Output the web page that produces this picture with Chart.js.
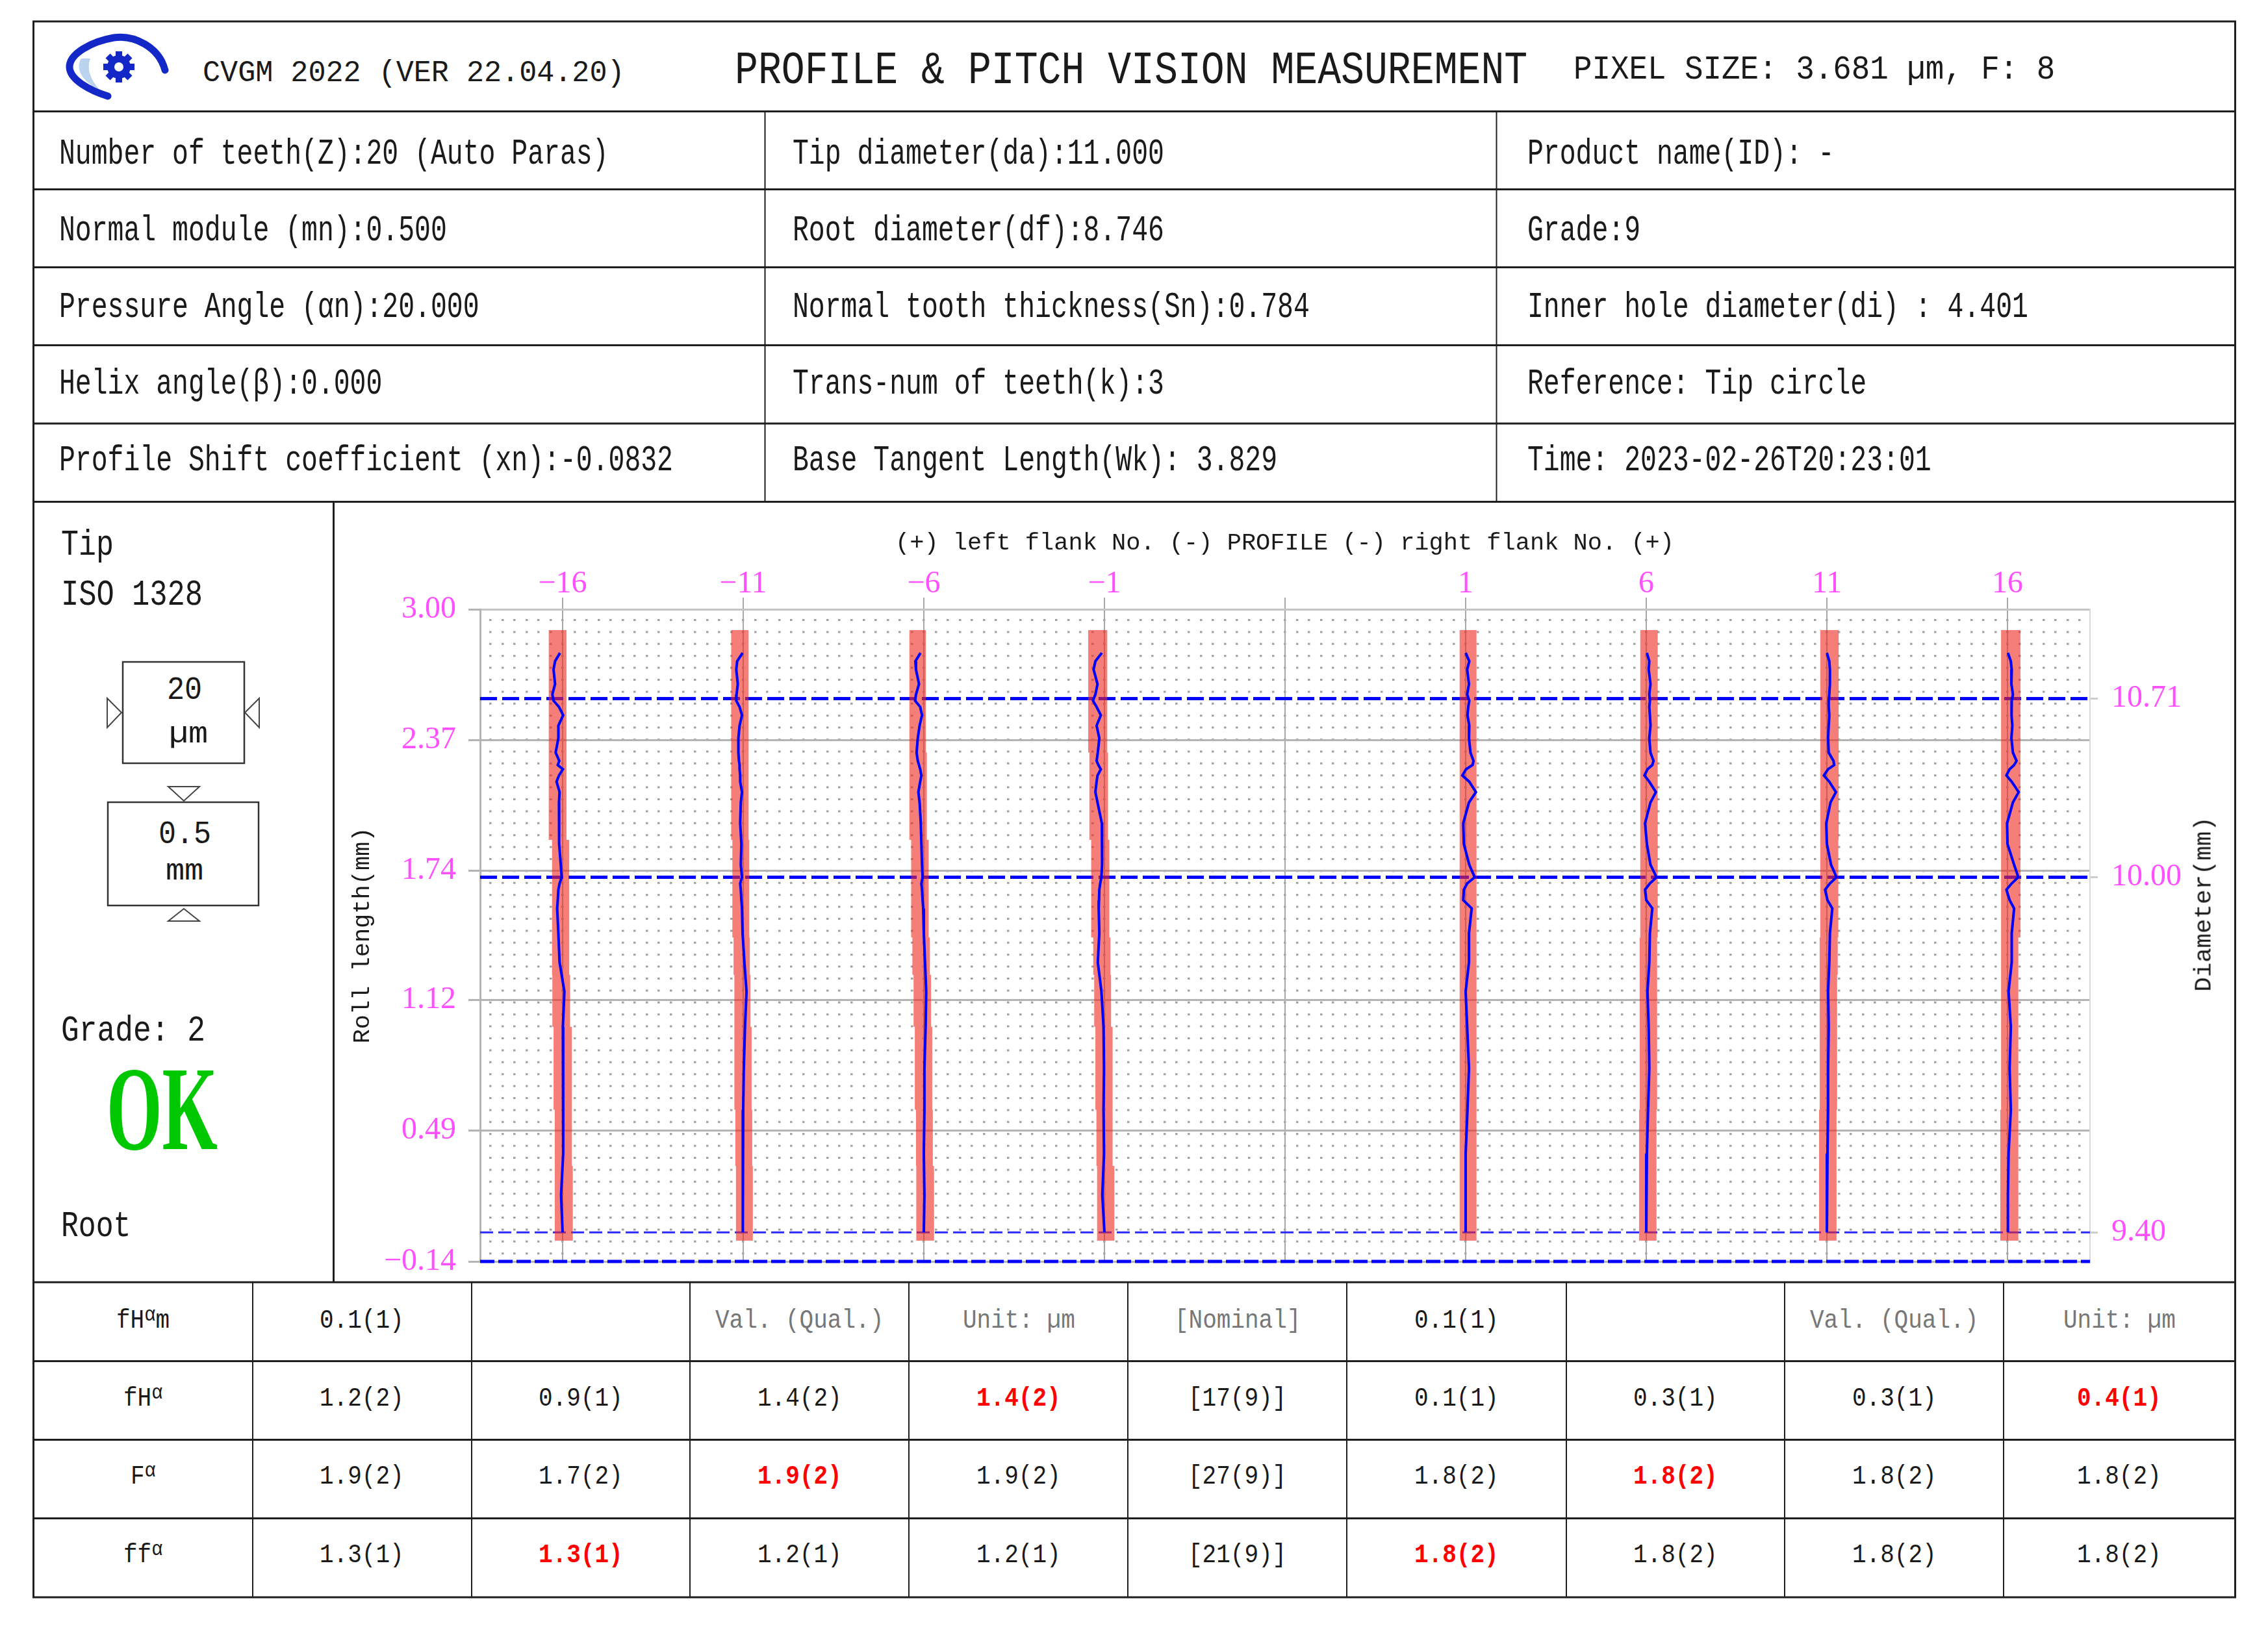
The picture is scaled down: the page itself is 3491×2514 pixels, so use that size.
<!DOCTYPE html>
<html>
<head>
<meta charset="utf-8">
<title>Profile &amp; Pitch Vision Measurement</title>
<script src="https://cdn.jsdelivr.net/npm/chart.js@4.4.1/dist/chart.umd.min.js"></script>
<style>
  html, body { margin: 0; padding: 0; background: #fff; }
  #page { position: relative; width: 3491px; height: 2514px; overflow: hidden; background: #fff;
          font-family: "Liberation Mono", monospace; color: #1a1a1a; }
  #frame { position: absolute; left: 0; top: 0; }
  .tx { position: absolute; white-space: nowrap; line-height: 1; transform-origin: 0 50%; }
  #chartBox { position: absolute; left: 514px; top: 773px; width: 2927px; height: 1200px; }
  .a { font-size: 0.8em; position: relative; top: -0.35em; }
</style>
</head>
<body>
<div id="page">
  <svg id="frame" width="3491" height="2514"></svg>
  <div id="chartBox"><canvas id="profileChart" width="2927" height="1200"></canvas></div>
</div>
<script>
// ---- chart data ----
const toothLabels = ['−16', '−11', '−6', '−1', '1', '6', '11', '16'];

// roll length (mm) at which each profile trace was sampled, tip -> root
const rollPts = [2.79, 2.75, 2.71, 2.64, 2.59, 2.56, 2.53, 2.49, 2.44, 2.38, 2.31, 2.27, 2.25, 2.23, 2.20, 2.17, 2.12, 2.07,
                 1.97, 1.87, 1.77, 1.71, 1.68, 1.65, 1.60, 1.56, 1.44, 1.30, 1.16, 0.99, 0.79, 0.59, 0.38, 0.18, 0.00];

// profile deviation (µm) per tooth, same length as rollPts
const devM16 = [-0.43, -1.25, -1.5, -1.25, -1.7, -1.5, -0.6, 0.1, -0.7, -0.7, -1.15, -0.55, -0.8, 0.05, -0.6, -1.0, -0.5, -0.6,
                -0.55, -0.6, -0.3, -0.15, -0.5, -0.7, -0.8, -0.9, -0.7, -0.5, 0.3, 0.05, 0.1, 0.1, 0.1, -0.25, 0];
const devM11 = [-0.1, -1.0, -1.15, -0.9, -1.1, -1.15, -0.6, -0.2, -0.6, -0.8, -0.8, -0.7, -0.6, -0.6, -0.5, -0.5, -0.2, -0.4,
                -0.5, -0.3, -0.4, -0.2, -0.5, -0.4, -0.3, -0.2, -0.1, 0.2, 0.55, 0.3, 0.1, 0.0, -0.1, -0.1, 0];
const devM6  = [-0.55, -1.4, -1.3, -0.8, -1.3, -1.45, -0.6, -0.3, -0.7, -1.0, -1.2, -1.0, -0.8, -0.6, -0.4, -0.6, -0.9, -0.7,
                -0.5, -0.4, -0.3, -0.2, -0.4, -0.3, -0.2, -0.1, 0.0, 0.2, 0.4, 0.3, 0.1, 0.1, 0.0, 0.1, 0];
const devM1  = [-0.43, -1.5, -1.8, -1.15, -1.5, -1.9, -1.3, -0.6, -1.3, -0.85, -1.1, -1.3, -1.0, -0.6, -1.15, -1.3, -1.5, -1.15,
                -0.43, -0.35, -0.43, -0.5, -0.7, -0.85, -0.9, -0.95, -0.85, -1.1, -0.5, -0.15, -0.07, -0.15, -0.07, -0.35, 0];
const devP1  = [0, 0.6, 0.25, 0.55, 0.25, 0.6, 0.43, 0.3, 0.6, 0.55, 0.8, 1.3, 1.15, 0.07, -0.55, 0.6, 1.7, 0.55,
                -0.4, -0.3, 0.6, 1.5, 0.25, -0.3, -0.4, 1.0, 0.55, 0.55, 0, 0.25, 0.55, 0.3, 0, 0, 0];
const devP6  = [0.1, 0.5, 0.4, 0.7, 0.5, 0.6, 0.5, 0.6, 0.7, 0.5, 0.7, 1.2, 1.0, 0.2, -0.3, 0.5, 1.6, 0.7,
                -0.2, 0.1, 0.7, 1.7, 0.6, -0.2, 0.0, 1.0, 0.6, 0.5, 0.2, 0.4, 0.5, 0.3, 0.1, 0.0, 0.0];
const devP11 = [0, 0.4, 0.5, 0.5, 0.4, 0.3, 0.3, 0.4, 0.3, 0.2, 0.3, 1.1, 1.2, 0.2, -0.5, 0.4, 1.5, 0.6,
                -0.1, 0.0, 0.7, 1.6, 0.5, -0.3, 0.1, 0.9, 0.5, 0.4, 0.2, 0.3, 0.2, 0.2, 0.1, 0.0, 0.0];
const devP16 = [0.07, 0.55, 0.7, 0.65, 0.9, 0.7, 0.7, 0.65, 0.8, 0.65, 0.9, 1.5, 1.1, 0.35, -0.18, 0.7, 1.85, 0.9,
                -0.07, 0, 1.1, 1.8, 0.7, -0.18, 0.35, 1.1, 0.7, 0.7, 0.18, 0.55, 0.35, 0.55, 0.18, 0.07, 0.07];
const profileDevs = [devM16, devM11, devM6, devM1, devP1, devP6, devP11, devP16];

// tolerance band: roll length breakpoints and low/high edge (µm) per segment, one row per tooth
const bandBreaks = [2.90, 2.31, 1.89, 1.42, 1.24, 0.99, 0.59, 0.32, -0.04];
const bandLo = [
  [-2.3, -2.3, -1.75, -1.75, -1.7, -1.5, -1.3, -1.3],
  [-2.0, -2.0, -1.8, -1.6, -1.5, -1.4, -1.3, -1.2],
  [-2.4, -2.4, -2.1, -1.9, -1.7, -1.5, -1.3, -1.25],
  [-2.7, -2.5, -2.2, -1.86, -1.7, -1.5, -1.33, -1.22],
  [-1.0, -1.0, -1.0, -1.0, -1.0, -1.0, -1.0, -1.0],
  [-1.0, -1.0, -1.0, -1.1, -1.1, -1.1, -1.2, -1.2],
  [-1.1, -1.1, -1.1, -1.2, -1.2, -1.2, -1.3, -1.3],
  [-1.07, -1.07, -1.07, -1.07, -1.07, -1.07, -1.2, -1.2]
];
const bandHi = [
  [0.65, 0.65, 1.1, 1.1, 1.25, 1.55, 1.55, 1.7],
  [0.9, 0.9, 1.0, 1.1, 1.2, 1.4, 1.5, 1.6],
  [0.35, 0.5, 0.8, 1.0, 1.2, 1.4, 1.5, 1.7],
  [0.47, 0.6, 0.82, 1.0, 1.1, 1.36, 1.36, 1.65],
  [1.8, 1.8, 1.8, 1.8, 1.8, 1.8, 1.8, 1.8],
  [1.9, 1.9, 1.9, 1.8, 1.8, 1.8, 1.7, 1.7],
  [1.95, 1.95, 1.9, 1.8, 1.7, 1.7, 1.6, 1.6],
  [2.15, 2.15, 2.15, 1.8, 1.8, 1.8, 1.8, 1.8]
];

const rollTicks = [3.00, 2.37, 1.74, 1.12, 0.49, -0.14];
const diaRolls  = [2.57, 1.71, 0.00, -0.14];
const diaLabels = ['10.71', '10.00', '9.40', ''];

// ---- report tables ----
const infoCol1 = ['Number of teeth(Z):20 (Auto Paras)', 'Normal module (mn):0.500', 'Pressure Angle (αn):20.000',
                  'Helix angle(β):0.000', 'Profile Shift coefficient (xn):-0.0832'];
const infoCol2 = ['Tip diameter(da):11.000', 'Root diameter(df):8.746', 'Normal tooth thickness(Sn):0.784',
                  'Trans-num of teeth(k):3', 'Base Tangent Length(Wk): 3.829'];
const infoCol3 = ['Product name(ID): -', 'Grade:9', 'Inner hole diameter(di) : 4.401',
                  'Reference: Tip circle', 'Time: 2023-02-26T20:23:01'];

const rowHeads = ['fHαm', 'fHα', 'Fα', 'ffα'];
const hdrRow = ['0.1(1)', '', 'Val. (Qual.)', 'Unit: µm', '[Nominal]', '0.1(1)', '', 'Val. (Qual.)', 'Unit: µm'];
const fHaRow = ['1.2(2)', '0.9(1)', '1.4(2)', '1.4(2)', '[17(9)]', '0.1(1)', '0.3(1)', '0.3(1)', '0.4(1)'];
const FaRow  = ['1.9(2)', '1.7(2)', '1.9(2)', '1.9(2)', '[27(9)]', '1.8(2)', '1.8(2)', '1.8(2)', '1.8(2)'];
const ffaRow = ['1.3(1)', '1.3(1)', '1.2(1)', '1.2(1)', '[21(9)]', '1.8(2)', '1.8(2)', '1.8(2)', '1.8(2)'];
const redCells = ['1-3', '1-8', '2-2', '2-6', '3-1', '3-5'];
const greyCells = ['0-2', '0-3', '0-4', '0-7', '0-8'];

// ---- frame / shapes ----
const page = document.getElementById('page');
const svg = document.getElementById('frame');
let shapes = '';
function ln(x1, y1, x2, y2, w, c) {
  shapes += `<line x1="${x1}" y1="${y1}" x2="${x2}" y2="${y2}" stroke="${c || '#1e1e1e'}" stroke-width="${w}"/>`;
}
[33, 171.5, 291.5, 411.5, 531.5, 652, 772.5, 1974, 2095.5, 2216.5, 2337.5, 2459].forEach(y => ln(50, y, 3442, y, 3));
ln(51.5, 32, 51.5, 2460, 3);
ln(3440.5, 32, 3440.5, 2460, 3);
[1177.5, 2303.5].forEach(x => ln(x, 171.5, x, 772.5, 2));
ln(513.5, 772.5, 513.5, 1974, 3);
[389, 726, 1062, 1399, 1736, 2073, 2411, 2747, 3084].forEach(x => ln(x, 1974, x, 2459, 2));

// scale boxes in the left panel
shapes += '<rect x="189" y="1019" width="187" height="156" fill="none" stroke="#333" stroke-width="2.5"/>';
shapes += '<rect x="166" y="1235" width="232" height="159" fill="none" stroke="#333" stroke-width="2.5"/>';
shapes += '<polygon points="165,1075 165,1120 187,1097" fill="none" stroke="#444" stroke-width="2"/>';
shapes += '<polygon points="399,1075 399,1120 377,1097" fill="none" stroke="#444" stroke-width="2"/>';
shapes += '<polygon points="259,1211 307,1211 283,1233" fill="none" stroke="#444" stroke-width="2"/>';
shapes += '<polygon points="259,1418 307,1418 283,1399" fill="none" stroke="#444" stroke-width="2"/>';

// logo
let gear = '';
for (let k = 0; k < 8; k++) gear += `<rect x="-5" y="-24" width="10" height="10" fill="#1428c8" transform="rotate(${k * 45})"/>`;
shapes += `<g transform="translate(95 48)">
  <path d="M30 42 C20 58 32 78 58 90 C44 74 38 58 44 42 Z" fill="#bcd3f0"/>
  <path d="M159 60 C150 25 112 5 80 10 C45 16 12 35 12 55 C12 75 45 92 71 100" fill="none" stroke="#1428c8" stroke-width="11" stroke-linecap="round"/>
  <g transform="translate(88 55)">${gear}<circle r="18" fill="#1428c8"/><circle r="7" fill="#fff"/></g>
</g>`;
svg.innerHTML = shapes;

// ---- text ----
function put(html, x, cy, size, opt) {
  opt = opt || {};
  const el = document.createElement('div');
  el.className = 'tx';
  el.innerHTML = html;
  el.style.fontSize = size + 'px';
  if (opt.family) el.style.fontFamily = opt.family;
  if (opt.bold) el.style.fontWeight = 'bold';
  if (opt.color) el.style.color = opt.color;
  page.appendChild(el);
  const w = el.offsetWidth;
  const sx = opt.width ? opt.width / w : (opt.sx || 1);
  el.style.left = (opt.center ? x - w * sx / 2 : x) + 'px';
  el.style.top = (cy - size * (opt.mid || 0.44)) + 'px';
  el.style.transform = 'scaleX(' + sx + ')';
  return el;
}

put('CVGM 2022 (VER 22.04.20)', 312, 110, 46, { width: 650 });
put('PROFILE &amp; PITCH VISION MEASUREMENT', 1131, 106, 70, { width: 1220 });
put('PIXEL SIZE: 3.681 µm, F: 8', 2422, 105, 52, { width: 741 });

const infoY = [234, 352, 470, 588, 706];
infoY.forEach((y, i) => {
  put(infoCol1[i], 91, y, 56, { sx: 0.74 });
  put(infoCol2[i], 1220, y, 56, { sx: 0.74 });
  put(infoCol3[i], 2351, y, 56, { sx: 0.74 });
});

put('Tip', 94, 836, 56, { width: 81 });
put('ISO 1328', 94, 913, 56, { width: 218 });
put('Grade: 2', 94, 1584, 56, { width: 222 });
put('Root', 94, 1885, 56, { width: 107 });
put('OK', 164, 1709, 184, { width: 171, bold: true, color: '#00c800', family: '"Liberation Serif", serif', mid: 0.51 });
put('20', 284, 1060, 50, { center: true, width: 54 });
put('µm', 290, 1128, 46, { center: true, width: 60 });
put('0.5', 284, 1282, 50, { center: true, width: 81 });
put('mm', 284, 1339, 46, { center: true, width: 58 });

const diaTitle = put('Diameter(mm)', 0, 0, 37, { width: 269 });
diaTitle.style.left = '3393px';
diaTitle.style.top = '1392px';
diaTitle.style.transformOrigin = '50% 50%';
diaTitle.style.transform = 'translate(-50%, -50%) rotate(-90deg) scaleX(' + (269 / diaTitle.offsetWidth) + ')';

const colX = [220, 557, 894, 1231, 1568, 1905, 2242, 2579, 2916, 3262];
const rowY = [2032, 2152, 2272, 2393];
[hdrRow, fHaRow, FaRow, ffaRow].forEach((row, r) => {
  const head = rowHeads[r].replace('α', '<span class="a">α</span>');
  put(head, colX[0], rowY[r], 40, { center: true, sx: 0.9 });
  row.forEach((v, c) => {
    if (!v) return;
    const key = r + '-' + c;
    const red = redCells.includes(key);
    put(v, colX[c + 1], rowY[r], 40, {
      center: true, sx: 0.9, bold: red,
      color: red ? '#ff0000' : (greyCells.includes(key) ? '#777' : '#1a1a1a')
    });
  });
});

// ---- chart ----
const SLOT = 30;                       // µm of plot width between neighbouring teeth
const xMin = -13.7, xMax = 8 * SLOT + 13.7;
const toothPos = toothLabels.map((t, i) => (i < 4 ? i : i + 1) * SLOT);
const centrePos = 4 * SLOT;

const datasets = [];
const dashStyle = [[26, 8], [26, 8], [20, 8], [22, 6]];
const dashWidth = [5, 5, 3, 5];
diaRolls.forEach((r, i) => {
  datasets.push({
    data: [{ x: xMin, y: r }, { x: xMax, y: r }],
    borderColor: i === 2 ? '#2a2aff' : '#0000ff', borderWidth: dashWidth[i], borderDash: dashStyle[i],
    pointRadius: 0, fill: false, order: 3, clip: 8
  });
});
toothLabels.forEach((t, k) => {
  const lo = [], hi = [];
  for (let s = 0; s < bandLo[k].length; s++) {
    lo.push({ x: toothPos[k] + bandLo[k][s], y: bandBreaks[s] }, { x: toothPos[k] + bandLo[k][s], y: bandBreaks[s + 1] });
    hi.push({ x: toothPos[k] + bandHi[k][s], y: bandBreaks[s] }, { x: toothPos[k] + bandHi[k][s], y: bandBreaks[s + 1] });
  }
  datasets.push({ data: lo, borderWidth: 0, borderColor: 'transparent', pointRadius: 0, fill: false, order: 2 });
  datasets.push({ data: hi, borderWidth: 0, borderColor: 'transparent', pointRadius: 0, fill: '-1',
                  backgroundColor: 'rgba(240,40,30,0.6)', order: 2 });
});
profileDevs.forEach((dev, k) => {
  datasets.push({
    data: rollPts.map((r, i) => ({ x: toothPos[k] + dev[i], y: r })),
    borderColor: '#0000ff', borderWidth: 4, pointRadius: 0, fill: false, order: 1
  });
});

const magenta = '#ff50ff';
Chart.defaults.font.family = '"Liberation Mono", monospace';

// vertical axes: fixed width and no extra label padding, so the plot keeps its place
function fixWidth(w) {
  return s => { s.width = w; s.paddingTop = 0; s.paddingBottom = 0; };
}

new Chart(document.getElementById('profileChart'), {
  type: 'line',
  data: { datasets },
  options: {
    responsive: false,
    animation: false,
    events: [],
    indexAxis: 'y',
    elements: { line: { tension: 0 } },
    layout: { autoPadding: false, padding: { left: 0, right: 0, top: 0, bottom: 31 } },
    plugins: {
      legend: { display: false },
      tooltip: { enabled: false },
      title: {
        display: true,
        text: '(+) left flank No. (-) PROFILE (-) right flank No. (+)',
        color: '#1a1a1a',
        font: { family: '"Liberation Mono", monospace', size: 37, weight: 'normal' },
        padding: { top: 41, bottom: 0 }
      }
    },
    scales: {
      x2: {
        type: 'linear', position: 'top', min: xMin, max: xMax,
        afterBuildTicks: s => { s.ticks = []; for (let v = -12; v <= xMax; v += 2) s.ticks.push({ value: v }); },
        afterFit: s => { s.height = 0; },
        ticks: { display: false },
        grid: { color: '#a0a0a0', lineWidth: 3.5, drawTicks: false, z: -2 },
        border: { display: false, dash: [3, 15.4], dashOffset: 3.4 }
      },
      x: {
        type: 'linear', position: 'top', min: xMin, max: xMax,
        afterBuildTicks: s => { s.ticks = toothPos.concat([centrePos]).sort((a, b) => a - b).map(v => ({ value: v })); },
        afterFit: s => { s.height = 79.6; },
        ticks: {
          autoSkip: false, maxRotation: 0, padding: -8, color: magenta,
          font: { family: '"Liberation Serif", serif', size: 48 },
          callback: v => { const k = toothPos.indexOf(v); return k >= 0 ? toothLabels[k] : ''; }
        },
        grid: { color: '#a8a8a8', lineWidth: 2, tickLength: 18, tickColor: '#a8a8a8' },
        border: { display: true, color: '#c4c4c4', width: 3 }
      },
      y: {
        type: 'linear', position: 'left', min: -0.14, max: 3.00,
        afterBuildTicks: s => { s.ticks = rollTicks.map(v => ({ value: v })); },
        afterFit: fixWidth(225),
        ticks: {
          autoSkip: false, padding: 19, color: magenta,
          font: { family: '"Liberation Serif", serif', size: 48 },
          callback: v => v.toFixed(2).replace('-', '−')
        },
        grid: { color: '#b4b4b4', lineWidth: 3, tickLength: 18 },
        border: { display: true, color: '#b4b4b4', width: 3 },
        title: {
          display: true, text: 'Roll length(mm)', color: '#1a1a1a',
          font: { family: '"Liberation Mono", monospace', size: 37 },
          padding: { top: 22, bottom: 0 }
        }
      },
      y2: {
        type: 'linear', position: 'right', min: -0.14, max: 3.00,
        afterBuildTicks: s => { s.ticks = diaRolls.filter((r, i) => diaLabels[i]).map(v => ({ value: v })); },
        afterFit: fixWidth(224),
        ticks: {
          autoSkip: false, padding: 21, color: magenta,
          font: { family: '"Liberation Serif", serif', size: 48 },
          callback: v => diaLabels[diaRolls.indexOf(v)]
        },
        grid: { drawOnChartArea: false, tickLength: 12, color: '#cccccc', lineWidth: 3 },
        border: { display: true, color: '#d8d8d8', width: 2 }
      }
    }
  }
});
</script>
</body>
</html>
